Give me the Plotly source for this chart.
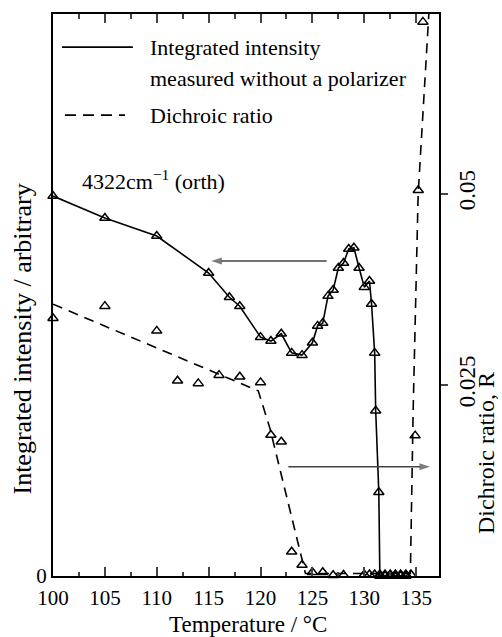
import plotly.graph_objects as go

# Integrated intensity (arbitrary units) measured without a polarizer
temp_int = [100, 105, 110, 115, 117, 118, 120, 121, 122, 123, 124, 125, 125.5, 126,
            126.5, 127, 127.5, 128, 128.5, 129, 129.5, 130, 130.5, 130.7, 131, 131.1,
            131.4, 131.5, 132, 132.5, 133, 133.5, 134]
intensity = [0.676, 0.637, 0.605, 0.539, 0.496, 0.480, 0.425, 0.418, 0.431, 0.397, 0.393,
             0.415, 0.445, 0.450, 0.498, 0.509, 0.548, 0.557, 0.582, 0.584, 0.548, 0.514,
             0.525, 0.484, 0.397, 0.294, 0.149, 0.0, 0.0, 0.0, 0.0, 0.0, 0.0]

# Dichroic ratio R
temp_r = [100, 105, 110, 112, 114, 116, 118, 120, 121, 122, 123, 124, 125, 126, 127, 128,
          130, 130.5, 131, 131.5, 132, 132.5, 133, 133.5, 134, 134.5, 134.9, 135.2, 135.65]
ratio = [0.03372, 0.03529, 0.03206, 0.02553, 0.02519, 0.02627, 0.02605, 0.02532, 0.01843,
         0.01755, 0.00318, 0.00144, 0.00048, 0.00048, 0.0001, 0.00013,
         0.0002, 0.0002, 0.0002, 0.0002, 0.0002, 0.0002, 0.0002, 0.0002, 0.0002, 0.0002,
         0.01836, 0.05045, 0.07247]

# Guide line drawn through the dichroic ratio trend
guide_t = [100, 119.78, 120.9, 124.33, 134.44, 134.71, 135.19, 136.22]
guide_r = [0.03555, 0.02422, 0.01934, 0.00033, 0.00033, 0.0217, 0.0499, 0.0735]

# Arrows telling which axis each curve is read on
arrow_int_t = [126.37, 115.26]
arrow_int_y = [0.5605, 0.5605]
arrow_r_t = [122.68, 136.32]
arrow_r_y = [0.01429, 0.01429]

x_ticks = [100, 105, 110, 115, 120, 125, 130, 135]
r_ticks = [0.025, 0.05]
r_tick_text = ["0.025", "0.05"]

FONT = "Liberation Serif"
R_RANGE = [0, 0.0735]
X_RANGE = [100, 137.2]

fig = go.Figure()

tri = dict(symbol="triangle-up-open", size=9, color="black", line=dict(width=1.5))

fig.add_trace(go.Scatter(
    x=temp_int, y=intensity, mode="lines+markers",
    line=dict(color="black", width=1.6), marker=tri,
    cliponaxis=False, showlegend=False, xaxis="x", yaxis="y"))

fig.add_trace(go.Scatter(
    x=guide_t, y=guide_r, mode="lines",
    line=dict(color="black", width=1.6, dash="10px,7px"),
    showlegend=False, xaxis="x", yaxis="y2"))

fig.add_trace(go.Scatter(
    x=temp_r, y=ratio, mode="markers", marker=tri,
    cliponaxis=False, showlegend=False, xaxis="x", yaxis="y2"))

arrow_marker = dict(symbol=["circle", "arrow"], size=[0, 11], angleref="previous",
                    color="#444", line=dict(width=0))
fig.add_trace(go.Scatter(
    x=arrow_int_t, y=arrow_int_y, mode="lines+markers",
    line=dict(color="#444", width=1.5), marker=arrow_marker,
    showlegend=False, hoverinfo="skip", xaxis="x", yaxis="y"))
fig.add_trace(go.Scatter(
    x=arrow_r_t, y=arrow_r_y, mode="lines+markers",
    line=dict(color="#444", width=1.5), marker=arrow_marker,
    showlegend=False, hoverinfo="skip", xaxis="x", yaxis="y2"))

# Legend drawn by hand: line samples and labels
fig.add_shape(type="line", xref="paper", yref="paper", x0=0.0233, x1=0.207, y0=0.941, y1=0.941,
              line=dict(color="black", width=1.6))
fig.add_shape(type="line", xref="paper", yref="paper", x0=0.031, x1=0.1865, y0=0.820, y1=0.820,
              line=dict(color="black", width=1.6, dash="11px,7px"))

txt = dict(xref="paper", yref="paper", xanchor="left", yanchor="middle", showarrow=False,
           font=dict(family=FONT, size=22, color="black"))
fig.add_annotation(text="Integrated intensity", x=0.246, y=0.941, **txt)
fig.add_annotation(text="measured without a polarizer", x=0.246, y=0.886, **txt)
fig.add_annotation(text="Dichroic ratio", x=0.246, y=0.820, **txt)
fig.add_annotation(text="4322cm<sup>\u22121</sup> (orth)", x=0.070, y=0.705, **txt)

# Axis titles
fig.add_annotation(text="Temperature / \u00b0C", xref="paper", yref="paper",
                   x=0.505, y=-0.087, xanchor="center", yanchor="middle", showarrow=False,
                   font=dict(family=FONT, size=23, color="black"))
fig.add_annotation(text="Integrated intensity / arbitrary", xref="paper", yref="paper",
                   x=-0.08, y=0.421, xanchor="center", yanchor="middle", textangle=-90,
                   showarrow=False, font=dict(family=FONT, size=26, color="black"))
fig.add_annotation(text="Dichroic ratio, R", xref="paper", yref="paper",
                   x=1.122, y=0.219, xanchor="center", yanchor="middle", textangle=-90,
                   showarrow=False, font=dict(family=FONT, size=24, color="black"))

fig.update_layout(
    width=502, height=637,
    margin=dict(l=53, r=63, t=14, b=61, autoexpand=False),
    paper_bgcolor="white", plot_bgcolor="white",
    font=dict(family=FONT, size=21, color="black"),
    xaxis=dict(
        range=X_RANGE, tickvals=x_ticks, ticks="inside", ticklen=9, tickwidth=1.6,
        showline=True, linewidth=2, linecolor="black", mirror="ticks",
        showgrid=False, zeroline=False, automargin=False, ticklabelstandoff=2,
        minor=dict(dtick=2.5, tick0=100, ticks="inside", ticklen=4.5, tickwidth=1.5,
                   showgrid=False),
        tickfont=dict(size=21)),
    yaxis=dict(
        range=[0, 1], tickvals=[0], ticktext=["0"], ticks="",
        showline=True, linewidth=2, linecolor="black", automargin=False,
        showgrid=False, zeroline=False, tickfont=dict(size=21)),
    yaxis2=dict(
        range=R_RANGE, overlaying="y", side="right", anchor="x",
        tickvals=r_ticks, ticktext=r_tick_text, tickangle=-90,
        ticks="outside", ticklen=6.5, tickwidth=1.6, automargin=False,
        showline=True, linewidth=2, linecolor="black",
        showgrid=False, zeroline=False, tickfont=dict(size=23)),
    yaxis3=dict(
        range=R_RANGE, overlaying="y", side="right", anchor="x",
        tickvals=r_ticks, ticks="inside", ticklen=5.5, tickwidth=1.6, automargin=False,
        showticklabels=False, showline=False, showgrid=False, zeroline=False),
)

fig.write_html("out.html")
